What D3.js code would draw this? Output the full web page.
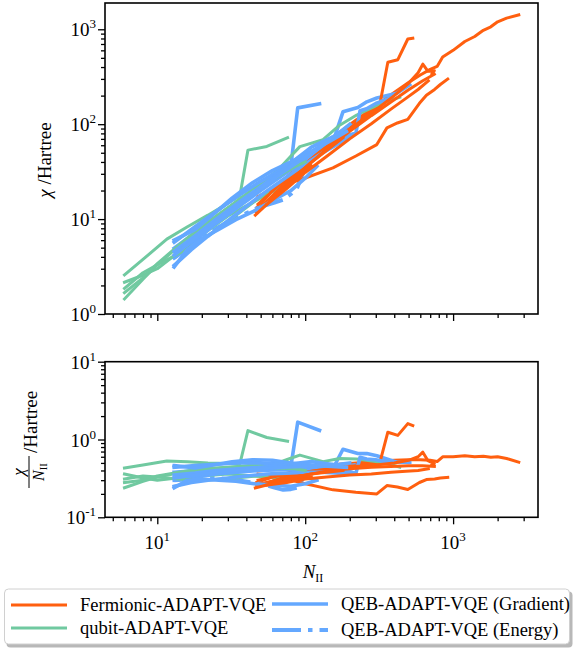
<!DOCTYPE html>
<html><head><meta charset="utf-8">
<script src="https://cdn.jsdelivr.net/npm/d3@7"></script>
<style>body{margin:0;background:#fff}svg{display:block}</style>
</head><body><svg id="c" width="573" height="648"></svg>
<script>
// ---------- data: each run is a list of [N_II, chi (Hartree)] ----------
const fermionicRuns = [
  [[47,13.2],[60,19.8],[80,30.4],[100,42],[130,58.5],[170,81.6],[220,110],[300,156],[400,216],[500,275],[600,330],[700,378],[780,406],[850,510],[1000,600],[1200,744],[1400,840],[1600,976],[1800,1062],[2000,1200],[2300,1311],[2780,1418]],
  [[48,17.3],[67,22.8],[92,25.8],[154,34.7],[220,46.2],[305,61],[357,91.4],[420,103],[494,112.6],[592,165.8],[660,202],[750,232.5],[820,262],[920,299]],
  [[52,14],[70,22.4],[95,35.2],[130,53.3],[180,79.2],[240,112.8],[320,163],[362,449],[423,478],[494,790],[534,806]],
  [[48,14.4],[65,22.1],[90,33.3],[120,48],[160,68.8],[220,99],[300,141],[400,200],[500,270],[580,348],[624,429],[675,362],[747,366],[720,338]],
  [[47,11.75],[60,16.8],[80,25.6],[110,39.6],[150,60],[200,84],[280,123],[380,171],[500,230],[620,285],[747,336]],
  [[50,13.5],[65,19.5],[85,28],[110,39.6],[140,53.2],[180,72]],
  [[46,11],[55,14.3],[70,20.3],[90,28.8],[110,36.3]],
  [[55,14.3],[75,21],[100,31],[140,46],[200,70],[280,101],[380,144],[480,187],[580,232],[680,286]]
];
const qubitRuns = [
  [[6,2.58],[8,3.76],[11.6,6.15],[16,8.3],[22,11],[30,14.7],[36.2,17.7],[41,53.3],[55,58.3],[76,72.2]],
  [[6,2.16],[8,2.56],[10,3],[14,4.5],[20,6.8],[30,10.8],[45,15.3],[65,20.8],[90,29.7],[116,36]],
  [[6,1.44],[8,2.32],[10,3.3],[13,4.7],[18,7],[25,10.5],[35,15.75],[50,24],[65,32.5],[79,45],[92,58],[132,68.6],[171,97.5],[223,125],[300,156],[373,179],[436,192]],
  [[6,1.86],[8,2.72],[10,3.3],[14,4.34],[20,6],[28,8.7],[40,13.2],[55,19.25]],
  [[6,1.68],[8,2.4],[10,3.4],[14,5.3],[20,8.4],[30,13.2],[45,20.25],[65,28],[85,35.7],[100,40]]
];
const qebGradientRuns = [
  [[13,4.94],[18,7.2],[25,10.5],[35,15.4],[50,22.5],[65,29.25],[80,36],[89,148.6],[125,163.8]],
  [[13,3.9],[18,5.94],[25,9],[35,13.3],[50,20],[70,28.7],[100,42],[130,54.6],[154,64.7],[180,135],[227,150],[261,172],[305,189],[416,212],[509,260]],
  [[13,5.72],[18,8.3],[25,12],[35,17.5],[50,25],[70,33.6],[100,46],[140,61.6],[190,76],[220,80.3],[235,138.7],[260,145.6],[300,165],[380,190]],
  [[13,3.25],[17,4.76],[22,6.6],[30,9.6],[40,13.6],[55,19.8],[75,27.75],[100,38],[130,49.4],[170,62.9],[207,76.6]],
  [[13,4.55],[18,6.66],[25,10],[35,14.7],[50,22],[70,32.2],[90,45],[110,57.2],[130,65],[150,72]],
  [[13,3.12],[16,4.8],[20,6.2],[26,7.8],[34,9.86],[45,12.15],[60,15.6],[80,20],[100,27],[120,36]],
  [[13,6],[18,7.74],[24,11.3],[32,16.6],[44,24.2],[60,32.4],[80,40],[110,51.7],[150,67.5],[190,83.6]],
  [[13,4.16],[18,6.3],[25,9.5],[35,14],[50,21],[70,30.8],[95,42.75],[130,61.1],[170,81.6],[200,100]]
];
const qebEnergyRuns = [
  [[13,3.9],[18,5.6],[25,8],[35,10.5],[50,13.5],[62,14.9],[71,16],[80,18.4],[88,21.1],[100,35],[120,48],[150,63],[180,77.4]],
  [[13,4.68],[17,6.46],[22,8.8],[30,12.6],[40,17.2],[55,24.2],[75,31.5],[100,40],[140,58.8],[180,81],[220,103.4]]
];
const legendLabels = ["Fermionic-ADAPT-VQE","qubit-ADAPT-VQE","QEB-ADAPT-VQE (Gradient)","QEB-ADAPT-VQE (Energy)"];
const xTickExps = [1,2,3];
const topYTickExps = [0,1,2,3];
const bottomYTickExps = [-1,0,1];

// ---------- styles ----------
const COL = {ferm:"#ff5f0f", qubit:"#70c9a0", grad:"#64a8ff", energy:"#64a8ff"};
const FONT = "'Liberation Serif','Times New Roman',serif";

const svg = d3.select("#c");
const L = 105, R = 538;
const x = d3.scaleLog().domain([4.43, 3750]).range([L, R]);
const yTop = d3.scaleLog().domain([1, 1892]).range([314, 3]);
const yBot = d3.scaleLog().domain([0.1, 10]).range([517.3, 361.7]);

function minorTicks(dom){
  const out=[]; const lo=Math.floor(Math.log10(dom[0])), hi=Math.ceil(Math.log10(dom[1]));
  for(let e=lo;e<=hi;e++) for(let m=2;m<=9;m++){const v=m*Math.pow(10,e); if(v>=dom[0]&&v<=dom[1]) out.push(v);}
  return out;
}

function panel(y, yExps, id, showXLabels){
  const g = svg.append("g");
  const [yb, yt] = y.range();
  g.append("clipPath").attr("id",id).append("rect").attr("x",L).attr("y",yt).attr("width",R-L).attr("height",yb-yt);
  const lines = g.append("g").attr("clip-path",`url(#${id})`);
  const line = d3.line().x(d=>x(d[0])).y(d=>y(d[1]));
  const order = [];
  const n = Math.max(fermionicRuns.length, qubitRuns.length, qebGradientRuns.length, qebEnergyRuns.length);
  for(let i=0;i<n;i++){
    if(fermionicRuns[i]) order.push({run:fermionicRuns[i], c:COL.ferm, w:3, dash:null});
    if(qubitRuns[i]) order.push({run:qubitRuns[i], c:COL.qubit, w:3, dash:null});
    if(qebGradientRuns[i]) order.push({run:qebGradientRuns[i], c:COL.grad, w:3.6, dash:null});
    if(qebEnergyRuns[i]) order.push({run:qebEnergyRuns[i], c:COL.energy, w:4, dash:"29,7,4.5,7"});
  }
  order.forEach(o=>{
    const pts = id==="cb" ? o.run.map(d=>[d[0], d[1]/d[0]]) : o.run;
    lines.append("path").attr("d", line(pts)).attr("fill","none")
      .attr("stroke",o.c).attr("stroke-width",o.w)
      .attr("stroke-linejoin","round").attr("stroke-linecap", o.dash?"butt":"square")
      .attr("stroke-dasharray", o.dash);
  });
  const xMaj = xTickExps.map(e=>Math.pow(10,e));
  const yMaj = yExps.map(e=>Math.pow(10,e));
  const xAx = g.append("g").attr("transform",`translate(0,${yb})`);
  xAx.call(d3.axisBottom(x).tickValues(xMaj).tickSize(7).tickFormat(""));
  xAx.append("g").call(d3.axisBottom(x).tickValues(minorTicks(x.domain())).tickSize(4).tickFormat(""));
  const yAx = g.append("g").attr("transform",`translate(${L},0)`);
  yAx.call(d3.axisLeft(y).tickValues(yMaj).tickSize(7).tickFormat(""));
  yAx.append("g").call(d3.axisLeft(y).tickValues(minorTicks(y.domain())).tickSize(4).tickFormat(""));
  g.selectAll(".domain").remove();
  g.selectAll(".tick line").attr("stroke","#000").attr("stroke-width",1.3);
  g.append("rect").attr("x",L).attr("y",yt).attr("width",R-L).attr("height",yb-yt)
    .attr("fill","none").attr("stroke","#000").attr("stroke-width",1.6);
  yExps.forEach(e=>{
    const t = g.append("text").attr("x",L-9).attr("y",y(Math.pow(10,e))+7)
      .attr("text-anchor","end").attr("font-family",FONT).attr("font-size",19).attr("fill","#000");
    t.append("tspan").text("10");
    t.append("tspan").attr("dy",-8).attr("font-size",13).text(String(e));
  });
  if(showXLabels){
    xTickExps.forEach(e=>{
      const t = g.append("text").attr("x",x(Math.pow(10,e))).attr("y",yb+32)
        .attr("text-anchor","middle").attr("font-family",FONT).attr("font-size",19).attr("fill","#000");
      t.append("tspan").text("10");
      t.append("tspan").attr("dy",-8).attr("font-size",13).text(String(e));
    });
  }
}

panel(yTop, topYTickExps, "ct", false);
panel(yBot, bottomYTickExps, "cb", true);

// axis labels
const tl = svg.append("text").attr("transform","translate(51,160) rotate(-90)")
  .attr("text-anchor","middle").attr("font-family",FONT).attr("font-size",19);
tl.append("tspan").attr("font-style","italic").text("χ");
tl.append("tspan").text(" /Hartree");

const bl = svg.append("g").attr("transform","translate(30,440) rotate(-90)");
bl.append("text").attr("x",-32).attr("y",-6).attr("text-anchor","middle").attr("font-family",FONT).attr("font-size",17).attr("font-style","italic").text("χ");
bl.append("line").attr("x1",-48).attr("x2",-16).attr("y1",-1).attr("y2",-1).attr("stroke","#000").attr("stroke-width",1);
const den = bl.append("text").attr("x",-32).attr("y",14).attr("text-anchor","middle").attr("font-family",FONT).attr("font-size",16);
den.append("tspan").attr("font-style","italic").text("N");
den.append("tspan").attr("dy",3).attr("font-size",11).text("II");
bl.append("text").attr("x",-13).attr("y",7).attr("font-family",FONT).attr("font-size",19).text("/Hartree");

const xl = svg.append("text").attr("x",313).attr("y",578).attr("text-anchor","middle").attr("font-family",FONT).attr("font-size",19);
xl.append("tspan").attr("font-style","italic").text("N");
xl.append("tspan").attr("dy",4).attr("font-size",12).text("II");

// legend
const lg = svg.append("g");
lg.append("rect").attr("x",6.5).attr("y",591.5).attr("width",566).attr("height",56).attr("rx",4).attr("fill","#888").attr("opacity",0.6);
lg.append("rect").attr("x",4.5).attr("y",589).attr("width",565).attr("height",55).attr("rx",4).attr("fill","#fff").attr("stroke","#d0d0d0").attr("stroke-width",1);
const items = [
  {lab:legendLabels[0], c:COL.ferm, w:3, dash:null, x0:11, tx:80, y:605},
  {lab:legendLabels[1], c:COL.qubit, w:3, dash:null, x0:11, tx:80, y:628},
  {lab:legendLabels[2], c:COL.grad, w:3.6, dash:null, x0:272, tx:341, y:604},
  {lab:legendLabels[3], c:COL.energy, w:4, dash:"29,7,4.5,7", x0:272, tx:341, y:630}
];
items.forEach(it=>{
  lg.append("line").attr("x1",it.x0).attr("x2",it.x0+56).attr("y1",it.y).attr("y2",it.y)
    .attr("stroke",it.c).attr("stroke-width",it.w).attr("stroke-dasharray",it.dash);
  lg.append("text").attr("x",it.tx).attr("y",it.y+6).attr("font-family",FONT).attr("font-size",18.5).text(it.lab);
});
</script></body></html>
